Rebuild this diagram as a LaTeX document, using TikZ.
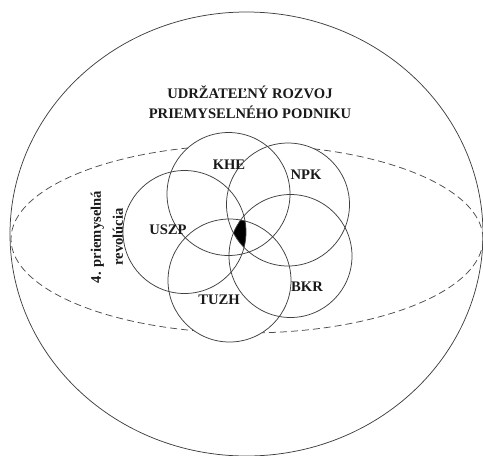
\documentclass[tikz,border=0pt]{standalone}
\usepackage{fontspec}
\setmainfont{Liberation Serif}
\usetikzlibrary{shapes.geometric}
\begin{document}
\begin{tikzpicture}[x=1pt,y=-1pt,
  ln/.style={draw=black!75,line width=0.75pt},
  ring/.style={circle,ln,minimum size=123pt,inner sep=0pt},
  lbl/.style={font=\fontsize{14.6}{20}\selectfont\bfseries,inner sep=0pt,text=black!90}]
\useasboundingbox (0,0) rectangle (483,456);
% outer sphere
\node[ellipse,ln,minimum width=473pt,minimum height=444pt,inner sep=0pt] (outer) at (246.5,234) {};
% dashed ellipse
\node[ellipse,draw=black!70,line width=0.75pt,dash pattern=on 7pt off 4pt,minimum width=472pt,minimum height=188pt,inner sep=0pt] (rev) at (247,239) {};
% circle centres
\coordinate (cKHE) at (228.5,194);
\coordinate (cNPK) at (288,204.5);
\coordinate (cUSZP) at (184.5,232);
\coordinate (cBKR) at (290.5,256);
\coordinate (cTUZH) at (229.5,280.5);
% white backgrounds
\foreach \c in {cKHE,cNPK,cUSZP,cBKR,cTUZH} \fill[white] (\c) circle (61.5);
% common intersection
\begin{scope}
  \clip (cKHE) circle (61.5);
  \clip (cNPK) circle (61.5);
  \clip (cUSZP) circle (61.5);
  \clip (cBKR) circle (61.5);
  \fill[black] (cTUZH) circle (61.5);
\end{scope}
% circles
\node[ring] (khe) at (cKHE) {};
\node[ring] (npk) at (cNPK) {};
\node[ring] (uszp) at (cUSZP) {};
\node[ring] (bkr) at (cBKR) {};
\node[ring] (tuzh) at (cTUZH) {};
% labels
\node[lbl,align=center] (title) at (250,102) {UDRŽATEĽNÝ ROZVOJ\\PRIEMYSELNÉHO PODNIKU};
\node[lbl] (tKHE) at (229,165) {KHE};
\node[lbl] (tNPK) at (306,175) {NPK};
\node[lbl] (tUSZP) at (168,230) {USZP};
\node[lbl] (tBKR) at (307,287) {BKR};
\node[lbl] (tTUZH) at (219,300) {TUZH};
\node[lbl,align=center,rotate=90] (t4) at (107,237) {4. priemyselná\\[2pt]revolúcia};
\end{tikzpicture}
\end{document}
